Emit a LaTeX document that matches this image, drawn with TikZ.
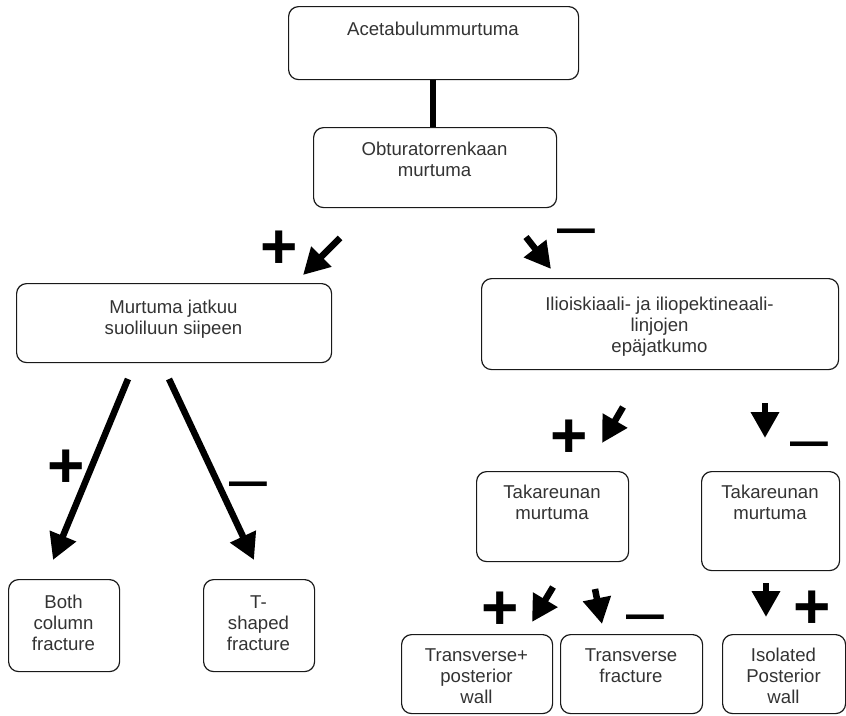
\documentclass[tikz,border=0pt]{standalone}
\usepackage{fontspec}
\setmainfont{Liberation Sans}
\usetikzlibrary{arrows.meta}
\begin{document}
\begin{tikzpicture}[x=1pt,y=-1pt,
  box/.style={draw=black!90, line width=1.2pt, rounded corners=10pt, inner sep=0pt, anchor=north west},
  txt/.style={font=\fontsize{18.6}{21}\selectfont, text=black!80, align=center, inner sep=0pt, anchor=north},
  arr/.style={line width=6.5pt, -{Triangle[length=26pt,width=27pt]}},
  plussign/.style={font=\fontsize{64}{64}\selectfont\bfseries, inner sep=0pt},
  minussign/.style={font=\fontsize{68}{68}\selectfont, inner sep=0pt}]
\useasboundingbox (0,0) rectangle (846,715);
\clip (0,0) rectangle (846,715);
% boxes
\node[box, minimum width=290pt, minimum height=73pt] (b1) at (288,6) {};
\node[box, minimum width=243pt, minimum height=80pt] (b2) at (313,127) {};
\node[box, minimum width=315pt, minimum height=79pt] (b3) at (16,283) {};
\node[box, minimum width=357pt, minimum height=91pt] (b4) at (481,278) {};
\node[box, minimum width=152pt, minimum height=90pt] (b5) at (476,471) {};
\node[box, minimum width=138pt, minimum height=99pt] (b6) at (701,471) {};
\node[box, minimum width=111pt, minimum height=92pt] (b7) at (8,579) {};
\node[box, minimum width=111pt, minimum height=92pt] (b8) at (203,579) {};
\node[box, minimum width=151pt, minimum height=79pt] (b9) at (401,634) {};
\node[box, minimum width=142pt, minimum height=79pt] (b10) at (560,634) {};
\node[box, minimum width=123pt, minimum height=79pt] (b11) at (722,634) {};
% texts
\node[txt] (t1) at (433,22) {Acetabulummurtuma};
\node[txt] (t2) at (434.5,142) {Obturatorrenkaan\\murtuma};
\node[txt] (t3) at (173.5,300) {Murtuma jatkuu\\suoliluun siipeen};
\node[txt] (t4) at (659.5,297) {Ilioiskiaali- ja iliopektineaali-\\linjojen\\epäjatkumo};
\node[txt] (t5) at (552,485) {Takareunan\\murtuma};
\node[txt] (t6) at (770,485) {Takareunan\\murtuma};
\node[txt] (t7) at (63.5,595) {Both\\column\\fracture};
\node[txt] (t8) at (258.5,595) {T-\\shaped\\fracture};
\node[txt] (t9) at (476.5,648) {Transverse+\\posterior\\wall};
\node[txt] (t10) at (631,648) {Transverse\\fracture};
\node[txt] (t11) at (783.5,648) {Isolated\\Posterior\\wall};
% connector
\draw[line width=6pt] (b1.south -| 433,0) coordinate (c0) -- (c0 |- b2.north);
% arrow coordinates
\coordinate (a1s) at (340,238); \coordinate (a1e) at (303,275);
\coordinate (a2s) at (526,237); \coordinate (a2e) at (551,269);
\coordinate (a3s) at (128,379); \coordinate (a3e) at (53,560);
\coordinate (a4s) at (169,379); \coordinate (a4e) at (254,560);
\coordinate (a5s) at (623,407); \coordinate (a5e) at (602,443);
\coordinate (a6s) at (765,403); \coordinate (a6e) at (765,438);
\coordinate (a7s) at (553,587); \coordinate (a7e) at (532,622);
\coordinate (a8s) at (595,589); \coordinate (a8e) at (602,624);
\coordinate (a9s) at (766,583); \coordinate (a9e) at (766,617);
\foreach \i in {1,...,9} {\draw[arr] (a\i s) -- (a\i e);}
% signs
\node[plussign] (p1) at (279,250) {+};
\node[plussign] (p2) at (66,469) {+};
\node[plussign] (p3) at (569,439) {+};
\node[plussign] (p4) at (500.5,611) {+};
\node[plussign] (p5) at (812.5,610) {+};
\node[minussign] (m1) at (576.5,239) {–};
\node[minussign] (m2) at (248,492) {–};
\node[minussign] (m3) at (809,452) {–};
\node[minussign] (m4) at (645,625) {–};
\end{tikzpicture}
\end{document}
